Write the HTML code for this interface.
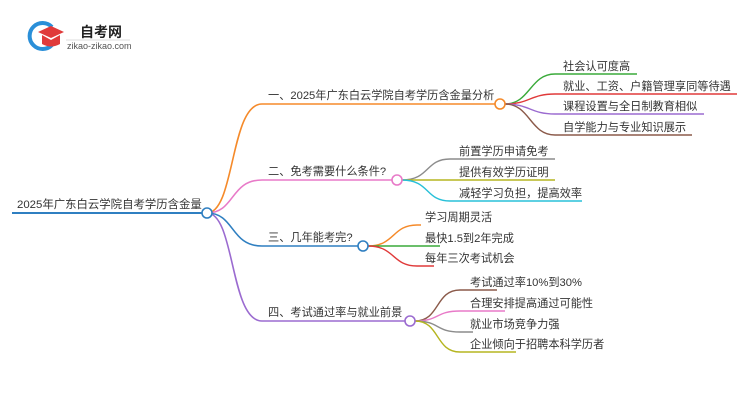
<!DOCTYPE html>
<html><head><meta charset="utf-8"><style>
html,body{margin:0;padding:0;background:#fff;}
svg text{font-family:"Liberation Sans","Noto Sans CJK SC",sans-serif;font-size:11.2px;fill:#333;}
</style></head><body>
<svg width="750" height="410" viewBox="0 0 750 410" xmlns="http://www.w3.org/2000/svg">
<!-- logo -->
<path d="M52 27 A13 13 0 1 0 52 45" fill="none" stroke="#2a8fd8" stroke-width="4"/>
<path d="M38 32 L51 26 L64 32 L51 38 Z" fill="#e03a3a"/>
<path d="M42 35 L42 44 Q51 49 60 44 L60 35 L51 40 Z" fill="#e03a3a"/>
<text x="80" y="37" style="font-size:14px;font-weight:bold;fill:#222">自考网</text>
<line x1="66" y1="40" x2="130" y2="40" stroke="#ddd"/>
<text x="67" y="49" style="font-size:9px;fill:#555">zikao-zikao.com</text>

<!-- root -->
<line x1="12" y1="213" x2="202" y2="213" stroke="#2f7fc1" stroke-width="2"/>
<text x="17" y="208" style="font-size:11.4px">2025年广东白云学院自考学历含金量</text>
<!-- root curves -->
<path d="M207 213 C235 213,230 104,262 104 L500 104" fill="none" stroke="#f58a2a" stroke-width="1.6"/>
<path d="M207 213 C235 213,230 180,262 180 L397 180" fill="none" stroke="#e87ac8" stroke-width="1.6"/>
<path d="M207 213 C235 213,230 246,262 246 L363 246" fill="none" stroke="#2f7fc1" stroke-width="1.6"/>
<path d="M207 213 C235 213,230 321,262 321 L410 321" fill="none" stroke="#9b6bd0" stroke-width="1.6"/>
<circle cx="207" cy="213" r="5" fill="#fff" stroke="#2f7fc1" stroke-width="1.6"/>
<text x="268" y="99">一、2025年广东白云学院自考学历含金量分析</text>
<text x="268" y="175">二、免考需要什么条件?</text>
<text x="268" y="241">三、几年能考完?</text>
<text x="268" y="316">四、考试通过率与就业前景</text>

<!-- branch1 leaves -->
<path d="M505 104 C530 104,530 74,555 74 L637 74" fill="none" stroke="#3aaa3a" stroke-width="1.4"/>
<path d="M505 104 C530 104,530 94,555 94 L737 94" fill="none" stroke="#e03a3a" stroke-width="1.4"/>
<path d="M505 104 C530 104,530 114,555 114 L704 114" fill="none" stroke="#9b6bd0" stroke-width="1.4"/>
<path d="M505 104 C530 104,530 135,555 135 L692 135" fill="none" stroke="#8b5a4a" stroke-width="1.4"/>
<circle cx="500" cy="104" r="5" fill="#fff" stroke="#f58a2a" stroke-width="1.6"/>
<text x="563" y="70">社会认可度高</text>
<text x="563" y="90">就业、工资、户籍管理享同等待遇</text>
<text x="563" y="110">课程设置与全日制教育相似</text>
<text x="563" y="131">自学能力与专业知识展示</text>

<!-- branch2 -->
<path d="M402 180 C430 180,425 159,450 159 L555 159" fill="none" stroke="#8c8c8c" stroke-width="1.4"/>
<path d="M402 180 L555 180" fill="none" stroke="#b5b520" stroke-width="1.4"/>
<path d="M402 180 C430 180,425 201,450 201 L582 201" fill="none" stroke="#28c0d8" stroke-width="1.4"/>
<circle cx="397" cy="180" r="5" fill="#fff" stroke="#e87ac8" stroke-width="1.6"/>
<text x="459" y="155">前置学历申请免考</text>
<text x="459" y="176">提供有效学历证明</text>
<text x="459" y="197">减轻学习负担，提高效率</text>

<!-- branch3 -->
<path d="M368 246 C395 246,392 225,417 225 L421 225" fill="none" stroke="#f58a2a" stroke-width="1.4"/>
<path d="M368 246 L440 246" fill="none" stroke="#3aaa3a" stroke-width="1.4"/>
<path d="M368 246 C395 246,392 266,417 266 L434 266" fill="none" stroke="#e03a3a" stroke-width="1.4"/>
<circle cx="363" cy="246" r="5" fill="#fff" stroke="#2f7fc1" stroke-width="1.6"/>
<text x="425" y="221">学习周期灵活</text>
<text x="425" y="242">最快1.5到2年完成</text>
<text x="425" y="262">每年三次考试机会</text>

<!-- branch4 -->
<path d="M415 321 C440 321,435 290,460 290 L497 290" fill="none" stroke="#8b5a4a" stroke-width="1.4"/>
<path d="M415 321 C440 321,435 311,460 311 L505 311" fill="none" stroke="#e87ac8" stroke-width="1.4"/>
<path d="M415 321 C440 321,435 332,460 332 L473 332" fill="none" stroke="#8c8c8c" stroke-width="1.4"/>
<path d="M415 321 C440 321,435 352,460 352 L516 352" fill="none" stroke="#b5b520" stroke-width="1.4"/>
<circle cx="410" cy="321" r="5" fill="#fff" stroke="#9b6bd0" stroke-width="1.6"/>
<text x="470" y="286">考试通过率10%到30%</text>
<text x="470" y="307">合理安排提高通过可能性</text>
<text x="470" y="328">就业市场竞争力强</text>
<text x="470" y="348">企业倾向于招聘本科学历者</text>
</svg>
</body></html>
